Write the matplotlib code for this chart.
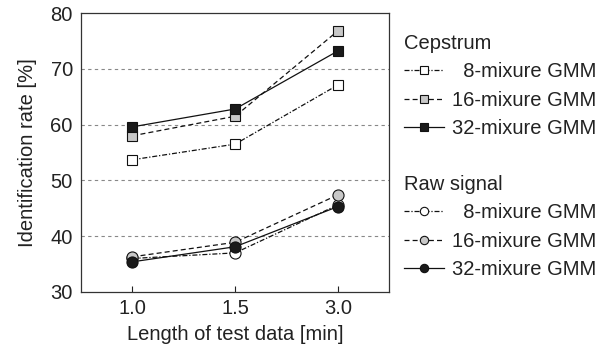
import matplotlib
matplotlib.use("Agg")
import matplotlib.pyplot as plt

plt.rcParams["font.family"] = ["Liberation Sans", "DejaVu Sans"]

lengths = ["1.0", "1.5", "3.0"]
cep_8 = [53.7, 56.5, 67.1]
cep_16 = [58.0, 61.5, 76.8]
cep_32 = [59.6, 62.8, 73.2]
raw_8 = [36.0, 37.0, 45.6]
raw_16 = [36.3, 38.9, 47.4]
raw_32 = [35.4, 38.1, 45.3]
labels = ["  8-mixure GMM", "16-mixure GMM", "32-mixure GMM"]

txt = "#222222"
grey = "#c8c8c8"
fs = 14.5
dashdot = (0, (4, 1.5, 1, 1.5))
dashed = (0, (4, 2.5))

fig = plt.figure(figsize=(6.1, 3.53), dpi=100)
ax = fig.add_axes([0.133, 0.173, 0.505, 0.790])

x = list(range(len(lengths)))
styles = [
    (dashdot, "white"),
    (dashed, grey),
    ("-", "#1a1a1a"),
]

cep_lines = []
for vals, (ls, fc) in zip([cep_8, cep_16, cep_32], styles):
    (ln,) = ax.plot(x, vals, linestyle=ls, color="#111111", lw=0.9,
                    marker="s", ms=6.8, mfc=fc, mec="#111111", mew=0.8)
    cep_lines.append(ln)

raw_lines = []
for vals, (ls, fc) in zip([raw_8, raw_16, raw_32], styles):
    (ln,) = ax.plot(x, vals, linestyle=ls, color="#111111", lw=0.9,
                    marker="o", ms=8, mfc=fc, mec="#111111", mew=0.8)
    raw_lines.append(ln)

ax.set_xlim(-0.5, 2.5)
ax.set_ylim(30, 80)
ax.set_xticks(x)
ax.set_xticklabels(lengths)
ax.set_yticks([30, 40, 50, 60, 70, 80])
for yv in [40, 50, 60, 70]:
    ax.axhline(yv, color="#888888", lw=0.8, ls=(0, (3, 3)), zorder=0)

ax.tick_params(axis="x", direction="in", length=4, width=0.8, colors=txt,
               labelsize=fs, pad=5)
ax.tick_params(axis="y", length=0, colors=txt, labelsize=fs, pad=6)
for s in ax.spines.values():
    s.set_color("#333333")
    s.set_linewidth(0.9)

ax.set_xlabel("Length of test data [min]", fontsize=fs, color=txt, labelpad=5)
ax.set_ylabel("Identification rate [%]", fontsize=fs, color=txt, labelpad=10)

common = dict(frameon=False, fontsize=fs, handlelength=2.0, handletextpad=0.4,
              labelspacing=0.47, borderpad=0.48, borderaxespad=0, alignment="left",
              labelcolor=txt, markerscale=0.75)
leg1 = fig.legend(cep_lines, labels, title="Cepstrum", loc="upper left",
                  bbox_to_anchor=(0.646, 0.932), **common)
leg2 = fig.legend(raw_lines, labels, title="Raw signal", loc="upper left",
                  bbox_to_anchor=(0.646, 0.532), **common)
for lg in (leg1, leg2):
    lg.get_title().set_fontsize(fs)
    lg.get_title().set_color(txt)

fig.savefig("out.png", dpi=100)
